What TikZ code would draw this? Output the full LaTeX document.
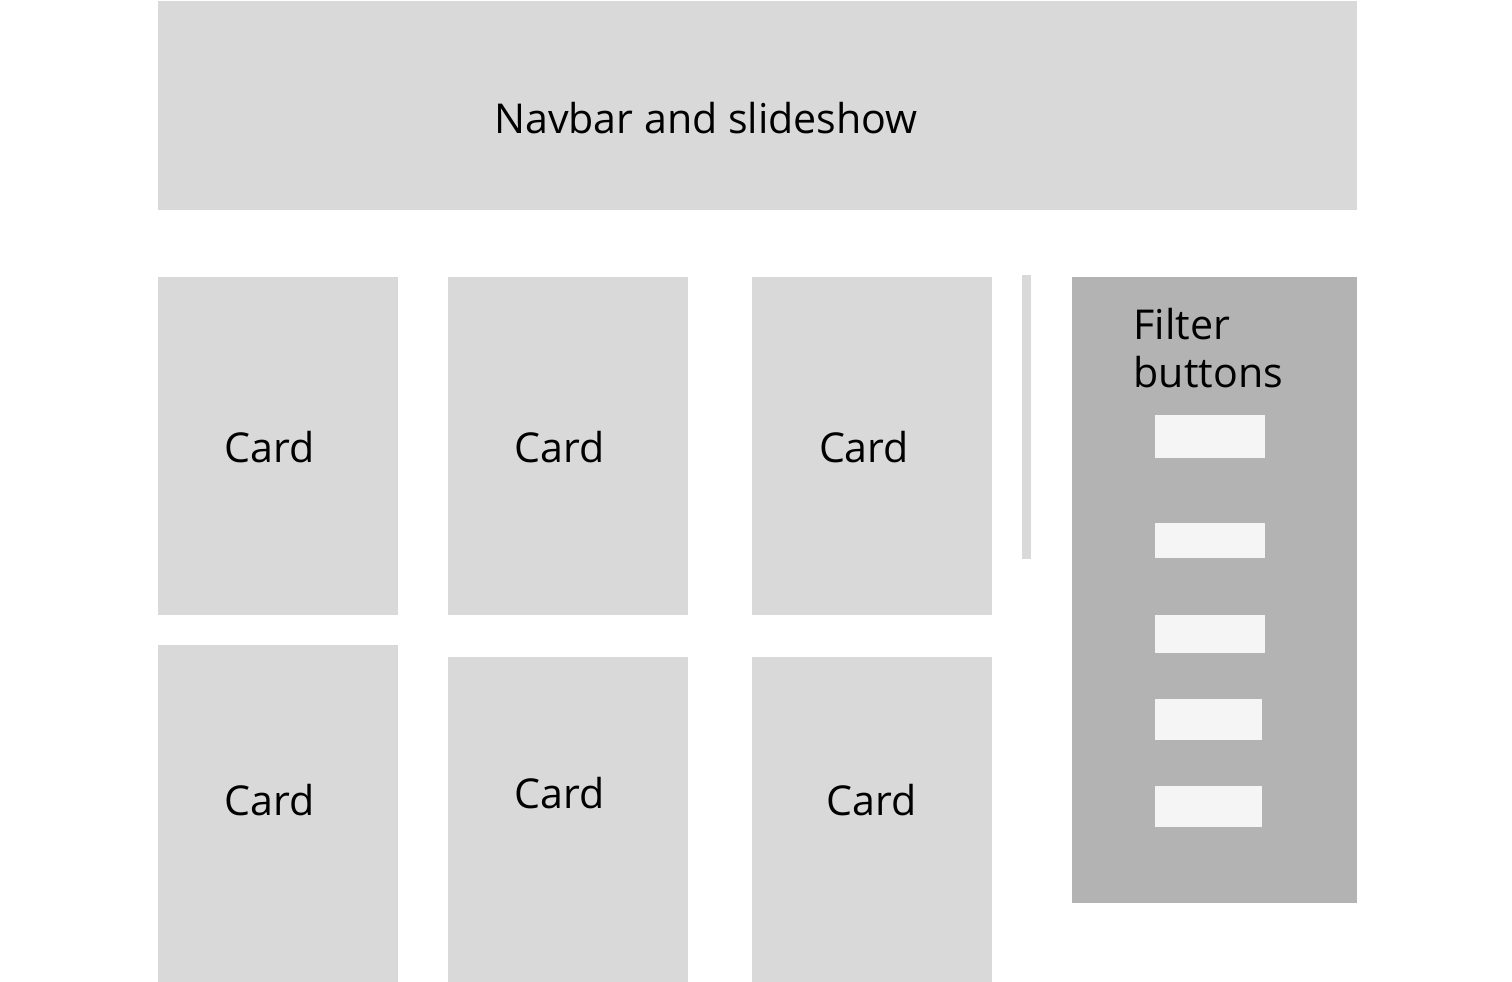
\documentclass[tikz,border=0pt]{standalone}
\usepackage{fontspec}
\setmainfont{Open Sans}
\definecolor{boxgrey}{HTML}{D9D9D9}
\definecolor{panelgrey}{HTML}{B3B3B3}
\definecolor{btnwhite}{HTML}{F5F5F5}
\tikzstyle{card} = [rectangle, minimum width=2.4cm, inner sep=0pt, anchor=north west, fill=boxgrey]
\tikzstyle{label_text} = [font=\fontsize{11.7}{13.6}\selectfont, inner sep=0pt]
\tikzstyle{filter_btn} = [rectangle, minimum width=1.1cm, inner sep=0pt, anchor=north west, fill=btnwhite]

\begin{document}
\begin{tikzpicture}[x=0.01cm, y=-0.01cm]
        \useasboundingbox (0,0) rectangle (1512,982);
        \node (navbar) [rectangle, minimum width=11.99cm, minimum height=2.09cm, inner sep=0pt, anchor=north west, fill=boxgrey] at (157,0) {};
        \node [label_text] at (706,118) {Navbar and slideshow};
        % first row of cards
        \node (card1) [card, minimum height=3.38cm] at (157,276) {};
        \node (card2) [card, minimum height=3.38cm] at (447,276) {};
        \node (card3) [card, minimum height=3.38cm] at (751,276) {};
        \node [label_text] at (270,447) {Card};
        \node [label_text] at (560,447) {Card};
        \node [label_text] at (864,447) {Card};
        % second row of cards
        \node (card4) [card, minimum height=3.38cm] at (157,644) {};
        \node (card5) [card, minimum height=3.26cm] at (447,656) {};
        \node (card6) [card, minimum height=3.26cm] at (751,656) {};
        \node [label_text] at (270,800) {Card};
        \node [label_text] at (560,793) {Card};
        \node [label_text] at (872,800) {Card};
        % divider and filter panel
        \node (divider) [rectangle, minimum width=0.09cm, minimum height=2.84cm, inner sep=0pt, anchor=north west, fill=boxgrey] at (1021,274) {};
        \node (filter) [rectangle, minimum width=2.85cm, minimum height=6.26cm, inner sep=0pt, anchor=north west, fill=panelgrey] at (1071,276) {};
        \node [label_text, anchor=north west, align=left] at (1133,308) {Filter\\buttons};
        \node (btn1) [filter_btn, minimum height=0.43cm] at (1154,414) {};
        \node (btn2) [filter_btn, minimum height=0.35cm] at (1154,522) {};
        \node (btn3) [filter_btn, minimum height=0.38cm] at (1154,614) {};
        \node (btn4) [filter_btn, minimum width=1.07cm, minimum height=0.41cm] at (1154,698) {};
        \node (btn5) [filter_btn, minimum width=1.07cm, minimum height=0.41cm] at (1154,785) {};
    \end{tikzpicture}
\end{document}
